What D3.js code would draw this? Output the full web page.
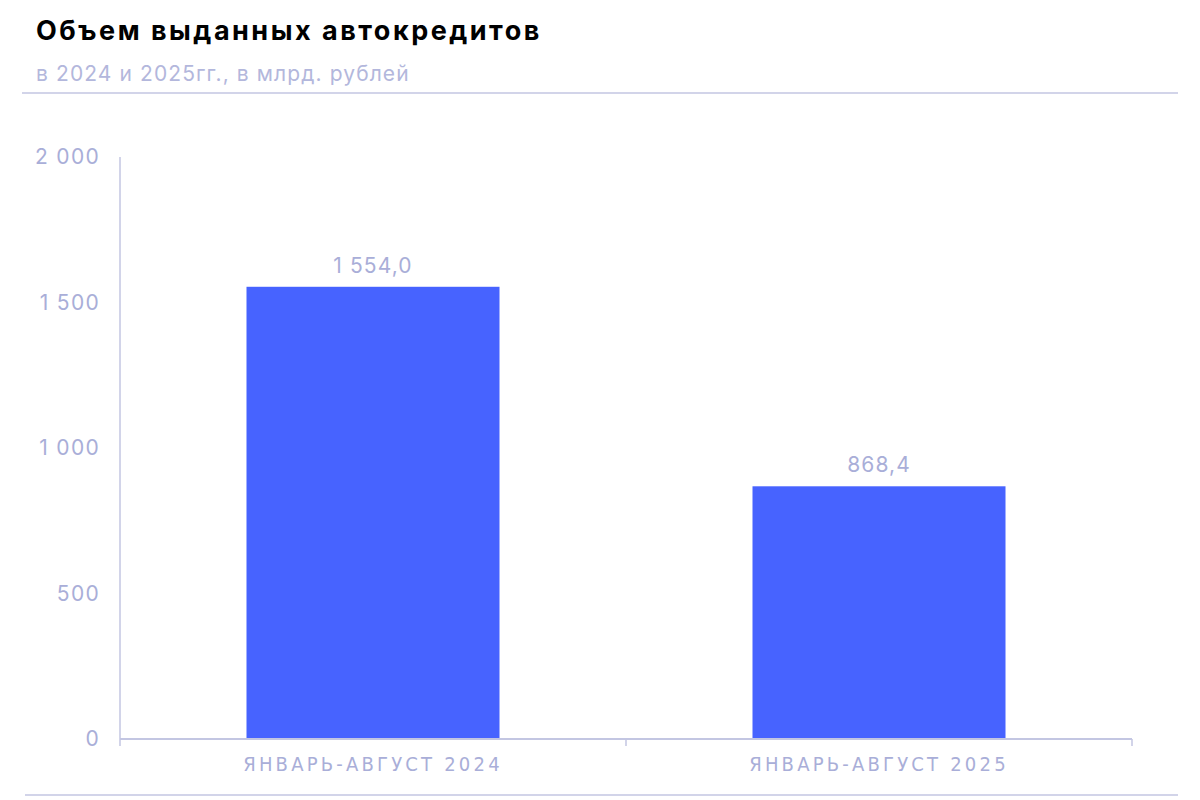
<!DOCTYPE html>
<html>
<head>
<meta charset="utf-8">
<script src="https://cdn.jsdelivr.net/npm/d3@7"></script>
<style>
  body { margin: 0; background: #fff; }
  svg { display: block; font-family: Inter, "Noto Sans", sans-serif; }
</style>
</head>
<body>
<svg width="1200" height="800"></svg>
<script>
const categories = ["ЯНВАРЬ-АВГУСТ 2024", "ЯНВАРЬ-АВГУСТ 2025"];
const values = [1554.0, 868.4];
const yTicks = [0, 500, 1000, 1500, 2000];

const svg = d3.select("svg");
const labelColor = "#a9aed8";
const lineColor = "#c3c6e2";

// заголовок
svg.append("text")
  .attr("x", 36).attr("y", 40)
  .attr("font-size", 27).attr("font-weight", 700).attr("fill", "#000")
  .attr("letter-spacing", 2.5)
  .text("Объем выданных автокредитов");
svg.append("text")
  .attr("x", 36).attr("y", 81)
  .attr("font-size", 21).attr("fill", "#b3b7dc")
  .attr("letter-spacing", 1.1)
  .text("в 2024 и 2025гг., в млрд. рублей");

svg.append("line")
  .attr("x1", 22).attr("x2", 1178).attr("y1", 93).attr("y2", 93)
  .attr("stroke", lineColor).attr("stroke-width", 1.5);
svg.append("line")
  .attr("x1", 25).attr("x2", 1178).attr("y1", 795).attr("y2", 795)
  .attr("stroke", lineColor).attr("stroke-width", 1.5);

const x = d3.scaleBand().domain(categories).range([120, 1132]).paddingInner(0.5).paddingOuter(0.25);
const y = d3.scaleLinear().domain([0, 2000]).range([739, 157]);

const fmt = v => d3.format(",.0f")(v).replace(/,/g, " ");
const fmt1 = v => d3.format(",.1f")(v).replace(/,/g, " ").replace(".", ",");

// ось Y
svg.append("line")
  .attr("x1", 120).attr("x2", 120).attr("y1", y(2000)).attr("y2", y(0))
  .attr("stroke", lineColor).attr("stroke-width", 1.5);
svg.selectAll(".ytick").data(yTicks).enter().append("text")
  .attr("class", "ytick")
  .attr("x", 100).attr("y", d => y(d) + 7)
  .attr("text-anchor", "end").attr("font-size", 21).attr("fill", labelColor)
  .attr("letter-spacing", 1.3)
  .text(fmt);

// столбцы
svg.selectAll(".bar").data(values).enter().append("rect")
  .attr("class", "bar")
  .attr("x", (d, i) => x(categories[i]))
  .attr("width", x.bandwidth())
  .attr("y", d => y(d))
  .attr("height", d => y(0) - y(d))
  .attr("fill", "#4763ff");

svg.selectAll(".val").data(values).enter().append("text")
  .attr("class", "val")
  .attr("x", (d, i) => x(categories[i]) + x.bandwidth() / 2)
  .attr("y", d => y(d) - 14)
  .attr("text-anchor", "middle").attr("font-size", 21).attr("fill", labelColor)
  .attr("letter-spacing", 1.1)
  .text(fmt1);

// ось X
const xAxis = svg.append("g").attr("transform", "translate(0,739)");
xAxis.append("line")
  .attr("x1", 120).attr("x2", 1132).attr("y1", 0).attr("y2", 0)
  .attr("stroke", lineColor).attr("stroke-width", 2);
const edges = [120, 120 + (1132 - 120) / 2, 1132];
xAxis.selectAll(".xt").data(edges).enter().append("line")
  .attr("x1", d => d).attr("x2", d => d).attr("y1", 0).attr("y2", 7)
  .attr("stroke", lineColor).attr("stroke-width", 1.5);
xAxis.selectAll(".xl").data(categories).enter().append("text")
  .attr("x", d => x(d) + x.bandwidth() / 2)
  .attr("y", 32)
  .attr("text-anchor", "middle").attr("font-size", 20)
  .attr("letter-spacing", 3.2)
  .attr("font-family", "'Liberation Sans Narrow', 'DejaVu Sans Condensed', sans-serif")
  .attr("fill", labelColor)
  .text(d => d);
</script>
</body>
</html>
